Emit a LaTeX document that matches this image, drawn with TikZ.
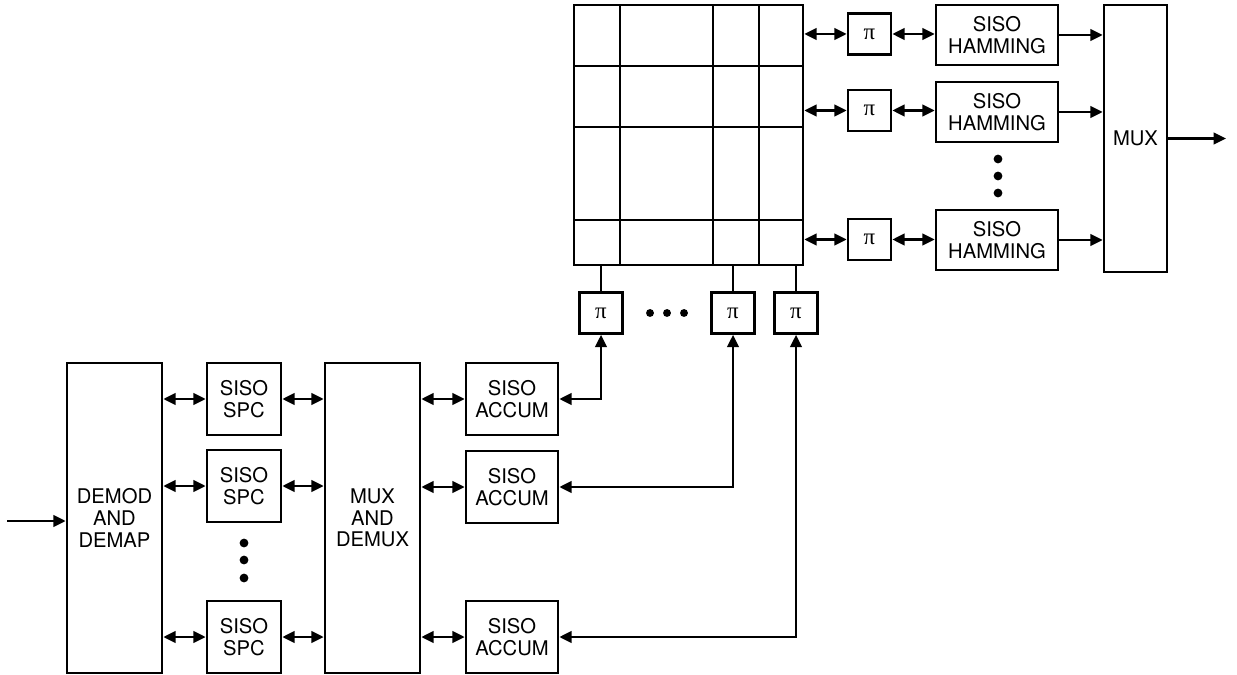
\documentclass[tikz,border=0pt]{standalone}
\usepackage{fontspec}
\setmainfont{TeX Gyre Heros}
\newfontfamily\pifont{Liberation Serif}
\usetikzlibrary{arrows.meta, positioning}

\begin{document}
\begin{tikzpicture}[
    x=0.02cm, y=-0.02cm,
    font=\fontsize{11.5}{12.3}\selectfont,
    box/.style={draw, line width=1.5pt, inner sep=0pt, align=center, minimum width=#1},
    pibox/.style={box=0.86cm, minimum height=0.82cm, font=\pifont\fontsize{13}{13}\selectfont},
    arr/.style={-{Triangle[length=7pt, width=6.5pt]}, line width=1.5pt},
    biarr/.style={{Triangle[length=7pt, width=6.5pt]}-{Triangle[length=7pt, width=6.5pt]}, line width=1.5pt},
    dot/.style={circle, fill, inner sep=0pt, minimum size=5pt},
]
\useasboundingbox (0,0) rectangle (1237,675);

% left part
\node[box=1.9cm, minimum height=6.2cm] (demod) at (114.5,518) {DEMOD\\AND\\DEMAP};
\node[box=1.9cm, minimum height=6.2cm] (muxd) at (372.5,518) {MUX\\AND\\DEMUX};

\node[box=1.48cm, minimum height=1.44cm] (spc1) at (244,399) {SISO\\SPC};
\node[box=1.48cm, minimum height=1.44cm] (spc2) at (244,486) {SISO\\SPC};
\node[box=1.48cm, minimum height=1.44cm] (spc3) at (244,637) {SISO\\SPC};

\node[box=1.84cm, minimum height=1.44cm] (acc1) at (512,399) {SISO\\ACCUM};
\node[box=1.84cm, minimum height=1.44cm] (acc2) at (512,487) {SISO\\ACCUM};
\node[box=1.84cm, minimum height=1.44cm] (acc3) at (512,637) {SISO\\ACCUM};

\node[dot] at (244,543) {};
\node[dot] at (244,560) {};
\node[dot] at (244,578) {};

% interleaver array
\node[box=4.58cm, minimum height=5.2cm] (grid) at (688.5,135) {};
\foreach \gx in {620,713,759}
    \draw[line width=1.5pt] (\gx,5) -- (\gx,265);
\foreach \gy in {66,127,220}
    \draw[line width=1.5pt] (574,\gy) -- (803,\gy);

\node[pibox] (pib1) at (601,313) {π};
\node[pibox] (pib2) at (733,313) {π};
\node[pibox] (pib3) at (796,313) {π};
\node[dot, minimum size=4.5pt] at (650,313) {};
\node[dot, minimum size=4.5pt] at (667,313) {};
\node[dot, minimum size=4.5pt] at (684,313) {};

% right part
\node[pibox] (pir1) at (869.5,34) {π};
\node[pibox] (pir2) at (869.5,110.5) {π};
\node[pibox] (pir3) at (869.5,239.5) {π};

\node[box=2.44cm, minimum height=1.2cm] (ham1) at (997,35) {SISO\\HAMMING};
\node[box=2.44cm, minimum height=1.2cm] (ham2) at (997,112) {SISO\\HAMMING};
\node[box=2.44cm, minimum height=1.2cm] (ham3) at (997,240) {SISO\\HAMMING};

\node[dot] at (998,159) {};
\node[dot] at (998,176) {};
\node[dot] at (998,193) {};

\node[box=1.26cm, minimum height=5.34cm] (mux) at (1135.5,138.5) {MUX};

\coordinate (in) at (7,521);
\coordinate (out) at (1226,138.5);

% connections
\draw[arr] (in) -- (in -| demod.west);
\foreach \i in {1,2,3} {
    \draw[biarr] (demod.east |- spc\i) -- (spc\i);
    \draw[biarr] (spc\i) -- (spc\i -| muxd.west);
    \draw[biarr] (muxd.east |- acc\i) -- (acc\i);
    \draw[biarr] (acc\i.east) -| (pib\i.south);
    \draw[line width=1.5pt] (pib\i.north) -- (pib\i.north |- grid.south);
    \draw[biarr] (grid.east |- pir\i) -- (pir\i);
    \draw[biarr] (pir\i) -- (pir\i -| ham\i.west);
    \draw[arr] (ham\i.east) -- (ham\i -| mux.west);
}
\draw[arr] (mux) -- (out);
\end{tikzpicture}
\end{document}
